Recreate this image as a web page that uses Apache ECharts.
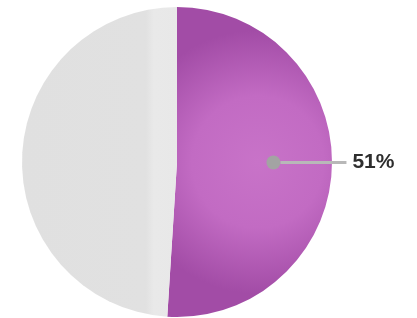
<!DOCTYPE html>
<html>
<head>
<meta charset="utf-8">
<script src="https://cdn.jsdelivr.net/npm/echarts@6/dist/echarts.min.js"></script>
<style>
  html, body { margin: 0; padding: 0; background: #ffffff; }
  #chart { width: 417px; height: 318px; }
</style>
</head>
<body>
<div id="chart"></div>
<script>
// slice data
const sliceNames = ["yes", "no"];
const sliceValues = [51, 49];
const sliceLabels = ["51%", ""];

const myChart = echarts.init(document.getElementById("chart"));

const purpleFill = new echarts.graphic.RadialGradient(0.55, 0.5, 0.8, [
  { offset: 0, color: "#c873c8" },
  { offset: 0.5, color: "#c26bc3" },
  { offset: 1, color: "#a24ca6" }
]);
const greyFill = new echarts.graphic.LinearGradient(0, 0, 1, 0, [
  { offset: 0, color: "#e0e0e0" },
  { offset: 0.8, color: "#e1e1e1" },
  { offset: 0.85, color: "#e9e9e9" },
  { offset: 1, color: "#e8e8e8" }
]);

myChart.setOption({
  animation: false,
  series: [
    {
      type: "pie",
      center: [177, 162],
      radius: [0, 155],
      startAngle: 90,
      clockwise: true,
      silent: true,
      data: sliceNames.map((n, i) => ({
        name: n,
        value: sliceValues[i],
        itemStyle: { color: i === 0 ? purpleFill : greyFill },
        label: sliceLabels[i] ? {
          show: true,
          position: "inside",
          formatter: "{dot|}{line|}{val|" + sliceLabels[i] + "}",
          rich: {
            dot: { width: 14, height: 14, borderRadius: 7, backgroundColor: "#a3a3a3" },
            line: { width: 66, height: 3, backgroundColor: "#b8b8b8" },
            val: {
              fontFamily: "Liberation Sans",
              fontWeight: "bold",
              fontSize: 21,
              color: "#2e2e2e",
              padding: [0, 0, 0, 6]
            }
          }
        } : { show: false },
        labelLine: { show: false }
      })),
      labelLayout: { dx: 73, dy: -2 }
    }
  ]
});
</script>
</body>
</html>
